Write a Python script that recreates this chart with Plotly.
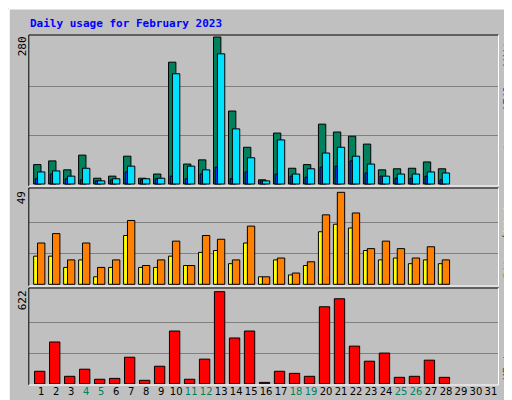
import plotly.graph_objects as go

days = list(range(1, 29))
hits = [37,44,27,55,11,15,53,11,19,232,38,46,280,139,70,8,97,30,37,114,99,91,76,27,29,30,42,29]
files = [23,25,15,30,6,10,34,10,11,210,34,27,248,105,50,6,84,19,29,59,70,53,38,15,19,19,23,21]
pages = [10,19,10,8,6,8,23,8,10,15,10,19,32,10,23,6,19,15,13,32,34,44,21,15,11,11,15,8]
visits = [22,27,13,22,9,13,34,10,13,23,10,26,24,13,31,4,14,6,12,37,49,38,19,23,19,14,20,13]
sites = [15,15,9,13,4,9,26,9,9,15,10,17,18,11,22,4,13,5,10,28,32,30,18,13,14,11,13,11]
kbytes = [84,282,50,98,30,36,179,23,118,356,30,166,622,309,356,9,84,70,50,520,574,254,152,207,43,50,159,43]
tick_days = list(range(1, 32))
weekend = {4,5,11,12,18,19,25,26}
max_hits, max_visits, max_kb = 280, 49, 622

L, R, T, B = 20.7, 490.0, 27.0, 376.0
W, H = R - L, B - T
def px(x): return (x - L) / W
def py(y): return (B - y) / H

line = dict(color="black", width=1)
fig = go.Figure()
def bar(y, color, off, wid, xa, ya):
    fig.add_trace(go.Bar(x=days, y=y, marker=dict(color=color, line=line),
                         offset=off, width=wid, xaxis=xa, yaxis=ya, showlegend=False,
                         hoverinfo="skip"))
bar(hits, "#00805c", -0.51, 0.49, "x", "y")
bar(files, "#00e0ff", -0.25, 0.49, "x", "y")
bar(pages, "#0040ff", -0.40, 0.15, "x", "y")
bar(sites, "#ffff00", -0.51, 0.27, "x2", "y2")
bar(visits, "#ff8000", -0.25, 0.49, "x2", "y2")
bar(kbytes, "#ff0000", -0.45, 0.69, "x3", "y3")

xr = [0.18, 31.47]
xcommon = dict(range=xr, showgrid=False, zeroline=False, fixedrange=True)
ycommon = dict(showline=False, zeroline=False, ticks="", showticklabels=False,
               gridcolor="#808080", gridwidth=1)
fig.update_layout(
    width=512, height=400, margin=dict(l=L, r=512 - R, t=T, b=400 - B),
    paper_bgcolor="#c0c0c0", plot_bgcolor="#c0c0c0", barmode="overlay",
    font=dict(family="DejaVu Sans Mono", size=11, color="black"),
    xaxis=dict(**xcommon, anchor="y", showticklabels=False),
    xaxis2=dict(**xcommon, anchor="y2", showticklabels=False),
    xaxis3=dict(**xcommon, anchor="y3", tickvals=tick_days, tickangle=0,
                ticktext=[f"<span style='color:{'#00805c' if d in weekend else 'black'}'>{d}</span>" for d in tick_days],
                ticks="", tickfont=dict(size=10, family="DejaVu Sans")),
    yaxis=dict(**ycommon, domain=[py(177), 1], range=[-1.9, 283.8],
               tickvals=[max_hits/3, 2*max_hits/3]),
    yaxis2=dict(**ycommon, domain=[py(277), py(180)], range=[-0.37, 51.3],
                tickvals=[max_visits/3, 2*max_visits/3]),
    yaxis3=dict(**ycommon, domain=[0, py(281)], range=[-2, 640],
                tickvals=[max_kb/3, 2*max_kb/3]),
)

shapes = []
def seg(x0, y0, x1, y1, c, w=1):
    shapes.append(dict(type="line", xref="paper", yref="paper", x0=px(x0), y0=py(y0),
                       x1=px(x1), y1=py(y1), line=dict(color=c, width=w)))
seg(0.5, 0.5, 511.5, 0.5, "white", 2); seg(0.5, 0.5, 0.5, 399.5, "white", 2)
seg(511, 0, 511, 400, "black", 2); seg(0, 399, 512, 399, "black", 2)
seg(508, 4, 508, 396, "#808080", 2); seg(4, 396, 508, 396, "#808080", 2)
for (t, b) in [(27, 178), (180, 278), (280, 377)]:
    seg(20.5, t, 490.5, t, "black"); seg(20.5, t, 20.5, b, "black")
    seg(490.5, t, 490.5, b, "white"); seg(20.5, b, 490.5, b, "white")
fig.update_layout(shapes=shapes)

ann = []
def text(x, y, s, angle=0, size=11, color="black", xanchor="center", yanchor="middle"):
    ann.append(dict(xref="paper", yref="paper", x=px(x), y=py(y), text=s, showarrow=False,
                    textangle=angle, xanchor=xanchor, yanchor=yanchor,
                    font=dict(size=size, color=color, family="DejaVu Sans Mono")))
text(20, 15, "<b>Daily usage for February 2023</b>", size=11, color="#0000ff", xanchor="left")
text(14, 38, str(max_hits), angle=-90)
text(14, 190, str(max_visits), angle=-90)
text(14, 292, str(max_kb), angle=-90)
# right side labels, word by word
for s, y, c in [("Hits", 39, "#00805c"), ("/", 58, "#404040"), ("Files", 80, "#0040ff"),
                ("/", 101, "#404040"), ("Pages", 125, "#00e0ff"),
                ("Visits", 204, "#ffff00"), ("/", 229, "#404040"), ("Sites", 254, "#ff8000"),
                ("KBytes", 352, "#ff0000")]:
    text(499, y, s, angle=-90, color=c)
fig.update_layout(annotations=ann)

fig.write_html("out.html")
